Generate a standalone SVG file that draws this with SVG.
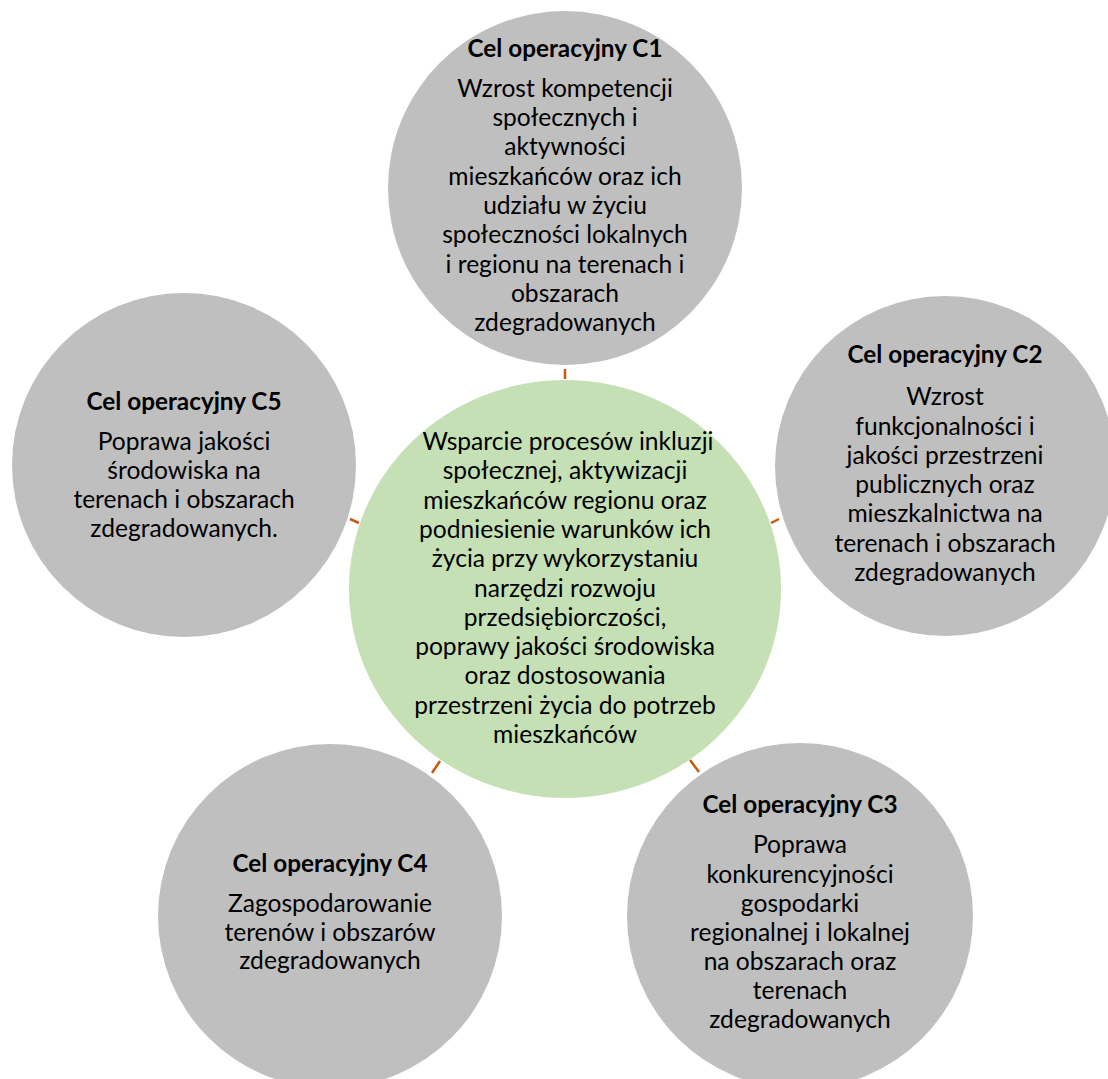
<svg xmlns="http://www.w3.org/2000/svg" width="1108" height="1079" viewBox="0 0 1108 1079">
<style>
.g{fill:#BFBFBF}
.c{fill:#C5E0B4}
text{font-family:Lato,"Liberation Sans",sans-serif;font-size:24.6px;fill:#000;text-anchor:middle}
.t{font-weight:bold;font-size:24.3px}
.k line{stroke:#C55A11;stroke-width:2.5;stroke-linecap:butt}
</style>
<rect width="1108" height="1079" fill="#FFFFFF"/>
<g id="connectors" class="k">
<line x1="565" y1="369" x2="565" y2="379"/>
<line x1="350" y1="519" x2="359" y2="523"/>
<line x1="771" y1="523" x2="779" y2="519"/>
<line x1="432" y1="773" x2="440" y2="761"/>
<line x1="690" y1="760" x2="699" y2="772"/>
</g>
<g id="c1">
<circle class="g" cx="565" cy="188" r="177"/>
<text class="t" x="565" y="57">Cel operacyjny C1</text>
<text x="565" y="97">Wzrost kompetencji</text>
<text x="565" y="126">społecznych i</text>
<text x="565" y="155">aktywności</text>
<text x="565" y="185">mieszkańców oraz ich</text>
<text x="565" y="214">udziału w życiu</text>
<text x="565" y="243">społeczności lokalnych</text>
<text x="565" y="273">i regionu na terenach i</text>
<text x="565" y="302">obszarach</text>
<text x="565" y="331">zdegradowanych</text>
</g>
<g id="c2">
<circle class="g" cx="945" cy="466" r="170"/>
<text class="t" x="945" y="363">Cel operacyjny C2</text>
<text x="945" y="405">Wzrost</text>
<text x="945" y="435">funkcjonalności i</text>
<text x="945" y="464">jakości przestrzeni</text>
<text x="945" y="493">publicznych oraz</text>
<text x="945" y="522">mieszkalnictwa na</text>
<text x="945" y="552">terenach i obszarach</text>
<text x="945" y="581">zdegradowanych</text>
</g>
<g id="c3">
<circle class="g" cx="800" cy="916" r="173"/>
<text class="t" x="800" y="813">Cel operacyjny C3</text>
<text x="800" y="853">Poprawa</text>
<text x="800" y="883">konkurencyjności</text>
<text x="800" y="912">gospodarki</text>
<text x="800" y="941">regionalnej i lokalnej</text>
<text x="800" y="970">na obszarach oraz</text>
<text x="800" y="999">terenach</text>
<text x="800" y="1028">zdegradowanych</text>
</g>
<g id="c4">
<circle class="g" cx="330" cy="916" r="172"/>
<text class="t" x="330" y="872">Cel operacyjny C4</text>
<text x="330" y="912">Zagospodarowanie</text>
<text x="330" y="941">terenów i obszarów</text>
<text x="330" y="969">zdegradowanych</text>
</g>
<g id="c5">
<circle class="g" cx="184" cy="465" r="172"/>
<text class="t" x="184" y="410">Cel operacyjny C5</text>
<text x="184" y="450">Poprawa jakości</text>
<text x="184" y="479">środowiska na</text>
<text x="184" y="508">terenach i obszarach</text>
<text x="184" y="537">zdegradowanych.</text>
</g>
<g id="center">
<ellipse class="c" cx="565" cy="589" rx="216" ry="209"/>
<text x="568" y="450">Wsparcie procesów inkluzji</text>
<text x="565" y="479">społecznej, aktywizacji</text>
<text x="565" y="509">mieszkańców regionu oraz</text>
<text x="565" y="538">podniesienie warunków ich</text>
<text x="565" y="567">życia przy wykorzystaniu</text>
<text x="565" y="597">narzędzi rozwoju</text>
<text x="565" y="626">przedsiębiorczości,</text>
<text x="565" y="655">poprawy jakości środowiska</text>
<text x="565" y="684">oraz dostosowania</text>
<text x="565" y="714">przestrzeni życia do potrzeb</text>
<text x="565" y="743">mieszkańców</text>
</g>
</svg>
